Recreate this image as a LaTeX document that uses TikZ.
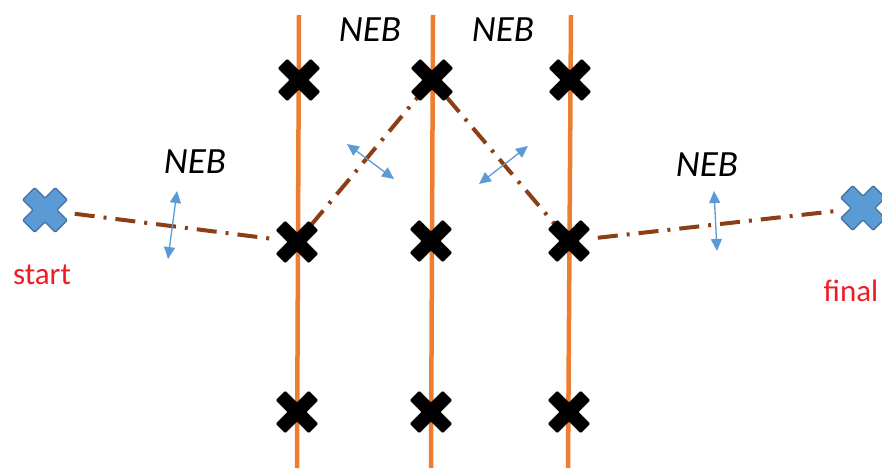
\documentclass[tikz,border=0pt]{standalone}
\usepackage{fontspec}
\setmainfont{Carlito}
\usetikzlibrary{arrows.meta}
\definecolor{orng}{HTML}{ED7D31}
\definecolor{brwn}{RGB}{140,62,20}
\definecolor{lblue}{HTML}{5B9BD5}
\definecolor{dblue}{HTML}{41719C}
\definecolor{lblred}{HTML}{EE1C25}
\tikzset{
  crossshape/.pic={\path[rotate=45,pic actions,rounded corners=1pt]
    (23,6.5) -- (6.5,6.5) -- (6.5,23) -- (-6.5,23) -- (-6.5,6.5) -- (-23,6.5) --
    (-23,-6.5) -- (-6.5,-6.5) -- (-6.5,-23) -- (6.5,-23) -- (6.5,-6.5) -- (23,-6.5) -- cycle;},
  bigcross/.pic={\path[rotate=45,pic actions,rounded corners=1pt]
    (23,8.5) -- (8.5,8.5) -- (8.5,23) -- (-8.5,23) -- (-8.5,8.5) -- (-23,8.5) --
    (-23,-8.5) -- (-8.5,-8.5) -- (-8.5,-23) -- (8.5,-23) -- (8.5,-8.5) -- (23,-8.5) -- cycle;},
  rail/.style={draw=orng,line width=4.5pt},
  pathline/.style={draw=brwn,line width=4pt,dash pattern=on 20pt off 9pt on 3pt off 9pt},
  dbl/.style={draw=lblue,line width=1.3pt,{Triangle[length=12pt,width=11pt]}-{Triangle[length=12pt,width=11pt]}},
  neb/.style={font=\fontsize{37}{40}\selectfont\itshape,text=black,inner sep=0pt},
  endlbl/.style={font=\fontsize{31}{34}\selectfont,text=lblred,inner sep=0pt}
}
\begin{document}
\begin{tikzpicture}[x=1pt,y=-1pt]
\useasboundingbox (0,0) rectangle (882,468);
% rails
\coordinate (L1t) at (299,15); \coordinate (L1b) at (297,468);
\coordinate (L2t) at (433,15); \coordinate (L2b) at (431,468);
\coordinate (L3t) at (571,15); \coordinate (L3b) at (568,468);
\draw[rail] (L1t) -- (L1b);
\draw[rail] (L2t) -- (L2b);
\draw[rail] (L3t) -- (L3b);
% images
\coordinate (S) at (45,210);
\coordinate (F) at (863,208);
\coordinate (A1) at (299,80); \coordinate (A2) at (432,80); \coordinate (A3) at (570,80);
\coordinate (B1) at (297,242); \coordinate (B2) at (431,241); \coordinate (B3) at (569,241);
\coordinate (C1) at (297,412); \coordinate (C2) at (431,412); \coordinate (C3) at (569,412);
% path
\draw[pathline,shorten <=30pt,shorten >=21pt] (S) -- (B1);
\draw[pathline,shorten <=21pt,shorten >=22pt] (B1) -- (A2);
\draw[pathline,shorten <=22pt,shorten >=21pt] (A2) -- (B3);
\draw[pathline,shorten <=29pt,shorten >=25pt] (B3) -- (F);
% markers
\foreach \p in {A1,A2,A3,B1,B2,B3,C1,C2,C3}
  \pic[fill=black,draw=black,line width=0.6pt] at (\p) {crossshape};
\pic[fill=lblue,draw=dblue,line width=1.2pt] at (S) {bigcross};
\pic[fill=lblue,draw=dblue,line width=1.2pt] at (F) {bigcross};
% arrows
\coordinate (u1) at (177,191); \coordinate (v1) at (168,259);
\coordinate (u2) at (347,144); \coordinate (v2) at (394,179);
\coordinate (u3) at (528,146); \coordinate (v3) at (479,184);
\coordinate (u4) at (714,191); \coordinate (v4) at (717,251);
\draw[dbl] (u1) -- (v1);
\draw[dbl] (u2) -- (v2);
\draw[dbl] (u3) -- (v3);
\draw[dbl] (u4) -- (v4);
% labels
\node[neb] (n1) at (370,30) {NEB};
\node[neb] (n2) at (503,30) {NEB};
\node[neb] (n3) at (195,162) {NEB};
\node[neb] (n4) at (707,165) {NEB};
\node[endlbl] (ls) at (42,275) {start};
\node[endlbl] (lf) at (851,291) {final};
\end{tikzpicture}
\end{document}
